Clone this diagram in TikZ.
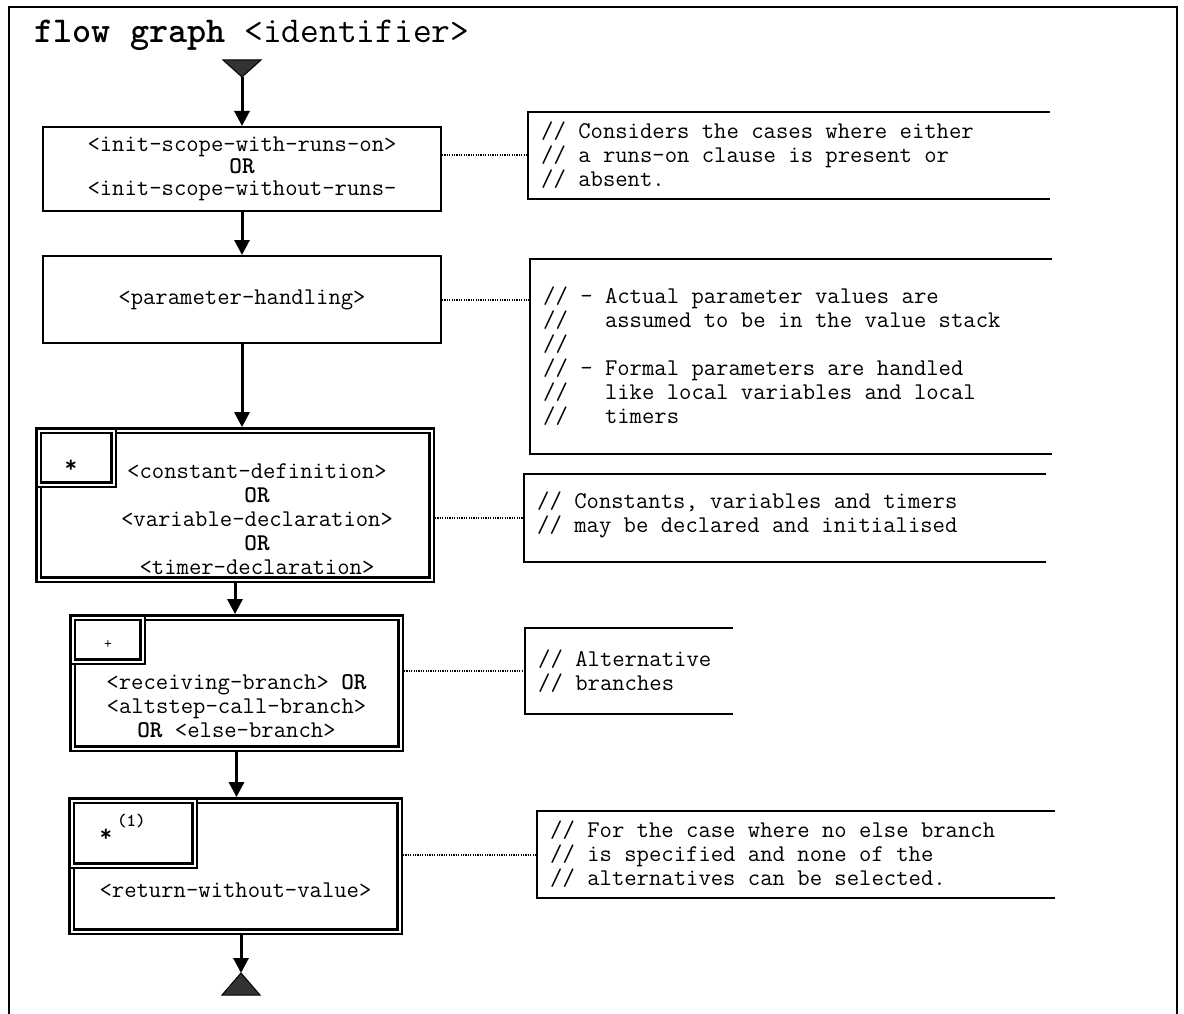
\documentclass[tikz,border=0pt]{standalone}
\usepackage{fontspec}
\usetikzlibrary{arrows.meta,positioning,calc}
\definecolor{termgray}{HTML}{333333}
\newcommand\flowfont{\ttfamily\fontsize{24}{24}\selectfont}

\begin{document}
\begin{tikzpicture}[x=1pt,y=-1pt,
    plainbox/.style={draw, line width=2pt, inner sep=0pt, font=\flowfont, align=center},
    dblbox/.style={draw, line width=2.4pt, double, double distance=2pt, outer sep=3.4pt, inner sep=0pt},
    notebox/.style={inner sep=0pt, outer sep=0pt},
    remark/.style={inner sep=0pt, font=\flowfont, align=left, anchor=west},
    bracket/.style={line width=2pt},
    flow/.style={line width=3pt, -{Triangle[width=15pt,length=15pt]}},
    link/.style={line width=2pt, dash pattern=on 1.2pt off 1.2pt},
    terminal/.style={draw, line width=1pt, fill=termgray}]
    \useasboundingbox (0,0) rectangle (1184,1014);
    \draw[line width=2pt] (9,1030) -- (9,7) -- (1177,7) -- (1177,1030);

    \node[anchor=base west, font=\ttfamily\fontsize{36.4}{40}\selectfont] (title) at (31,43)
      {\textbf{flow graph} <identifier>};

    % start and end symbols
    \coordinate (entry) at (242,77);
    \path[terminal] (223,60) -- (261,60) -- (entry) -- cycle;
    \coordinate (exit) at (241,973);
    \path[terminal] (222,995) -- (260,995) -- (exit) -- cycle;

    % flow boxes
    \node[plainbox, minimum width=398pt, minimum height=84pt] (init) at (242,169)
      {<init-scope-with-runs-on>\\[-2pt]\textbf{OR}\\[-2pt]<init-scope-without-runs-};
    \node[plainbox, minimum width=398pt, minimum height=87pt] (params) at (242,299.5)
      {<parameter-handling>};

    \node[dblbox, minimum width=393pt, minimum height=149pt] (consts) at (235,505) {};
    \node[dblbox, anchor=north west, minimum width=75pt, minimum height=54pt] (constmark) at (consts.north west) {};
    \node[font=\flowfont\bfseries] at (71,466) {*};
    \node[font=\flowfont, align=center] (consttext) at (257,519.5)
      {<constant-definition>\\\textbf{OR}\\<variable-declaration>\\\textbf{OR}\\<timer-declaration>};

    \node[dblbox, minimum width=328pt, minimum height=131pt] (alts) at (236.5,683) {};
    \node[dblbox, anchor=north west, minimum width=70pt, minimum height=44pt] (altmark) at (alts.north west) {};
    \node[font=\ttfamily\fontsize{15}{15}\selectfont] at (108,645) {+};
    \node[font=\flowfont, align=center] (alttext) at (236.5,706.5)
      {<receiving-branch> \textbf{OR}\\<altstep-call-branch>\\\textbf{OR} <else-branch>};

    \node[dblbox, minimum width=328pt, minimum height=131pt] (retn) at (235.5,866) {};
    \node[dblbox, anchor=north west, minimum width=123pt, minimum height=65pt] (retnmark) at (retn.north west) {};
    \node[anchor=base west, font=\flowfont\bfseries] at (96,841)
      {*\hspace{5pt}\raisebox{15pt}{\fontsize{18}{18}\selectfont(1)}};
    \node[font=\flowfont] (retntext) at (235.5,890) {<return-without-value>};

    % comments
    \node[notebox, minimum width=522pt, minimum height=87pt] (scopenote) at (789,155.5) {};
    \node[notebox, minimum width=522pt, minimum height=195pt] (paramnote) at (791,356.5) {};
    \node[notebox, minimum width=522pt, minimum height=88pt] (declnote) at (785,518) {};
    \node[notebox, minimum width=208pt, minimum height=86pt] (altnote) at (629,671) {};
    \node[notebox, minimum width=518pt, minimum height=87pt] (retnote) at (796,854.5) {};
    \foreach \n in {scopenote,paramnote,declnote,altnote,retnote}
      \draw[bracket] (\n.north east) -- (\n.north west) -- (\n.south west) -- (\n.south east);

    \node[remark] (scopetext) at ([xshift=13pt]scopenote.west)
      {// Considers the cases where either\\// a runs-on clause is present or\\// absent.};
    \node[remark] (paramtext) at ([xshift=13pt]paramnote.west)
      {// - Actual parameter values are\\//~~~assumed to be in the value stack\\//\\// - Formal parameters are handled\\//~~~like local variables and local\\//~~~timers};
    \node[remark] (decltext) at ([xshift=13pt,yshift=3pt]declnote.west)
      {// Constants, variables and timers\\// may be declared and initialised};
    \node[remark] (alttext) at ([xshift=13pt]altnote.west)
      {// Alternative\\// branches};
    \node[remark] (retntext) at ([xshift=13pt]retnote.west)
      {// For the case where no else branch\\// is specified and none of the\\// alternatives can be selected.};

    % connectors
    \draw[flow] (entry) -- (init);
    \draw[flow] (init) -- (params);
    \draw[flow] (params.south) -- (params.south |- consts.north);
    \draw[flow] (consts.south) -- (consts.south |- alts.north);
    \draw[flow] (alts.south) -- (alts.south |- retn.north);
    \draw[flow] (retn.south -| exit) -- (exit);

    \draw[link] (init.east |- scopenote.west) -- (scopenote.west);
    \draw[link] (params.east) -- (params.east -| paramnote.west);
    \draw[link] (consts.east |- declnote.west) -- (declnote.west);
    \draw[link] (alts.east |- altnote.west) -- (altnote.west);
    \draw[link] (retn.east |- retnote.west) -- (retnote.west);
\end{tikzpicture}
\end{document}
